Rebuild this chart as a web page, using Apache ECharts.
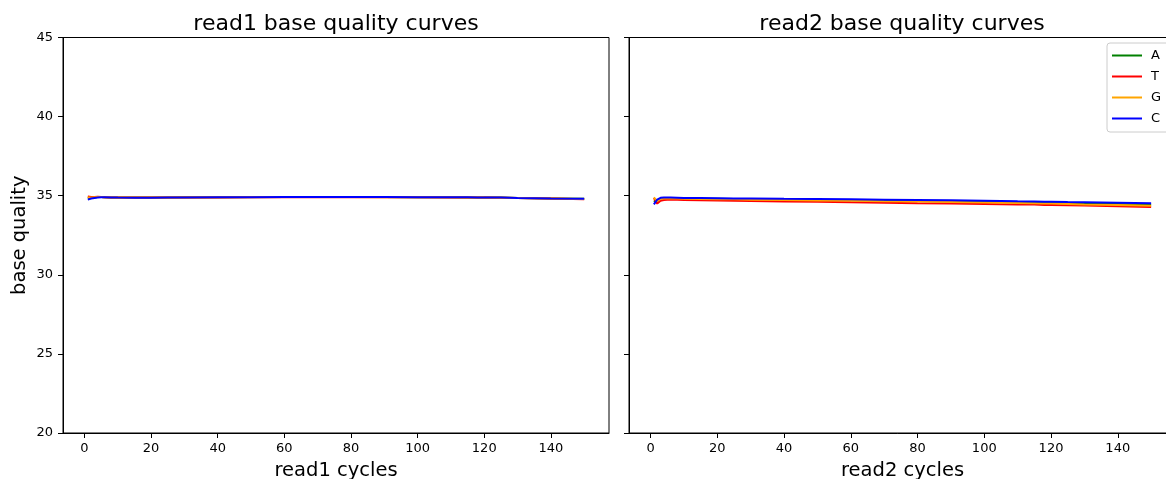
<!DOCTYPE html>
<html>
<head>
<meta charset="utf-8">
<script src="https://cdn.jsdelivr.net/npm/echarts@6/dist/echarts.min.js"></script>
<style>
html,body{margin:0;padding:0;background:#fff;}
#chart{width:1166px;height:479px;}
</style>
</head>
<body>
<div id="chart"></div>
<script>
var cycles = [1,2,3,4,5,6,8,10,15,20,25,30,40,50,60,70,80,90,100,110,115,118,120,125,130,140,150];

// read1 base quality per base
var read1A = [34.85,34.88,34.90,34.91,34.91,34.90,34.89,34.88,34.88,34.88,34.89,34.90,34.90,34.91,34.91,34.91,34.91,34.91,34.90,34.90,34.89,34.89,34.89,34.88,34.86,34.83,34.80];
var read1T = [34.95,34.92,34.92,34.93,34.92,34.90,34.89,34.88,34.88,34.88,34.88,34.89,34.89,34.90,34.90,34.90,34.90,34.90,34.90,34.89,34.89,34.88,34.88,34.87,34.85,34.82,34.78];
var read1G = [34.88,34.89,34.90,34.91,34.91,34.90,34.89,34.88,34.88,34.88,34.89,34.89,34.90,34.90,34.91,34.91,34.91,34.90,34.90,34.90,34.89,34.89,34.88,34.87,34.86,34.83,34.79];
var read1C = [34.75,34.82,34.86,34.88,34.90,34.90,34.89,34.88,34.87,34.87,34.88,34.89,34.90,34.90,34.91,34.91,34.91,34.91,34.90,34.90,34.90,34.89,34.89,34.88,34.86,34.83,34.81];

// read2 base quality per base
var read2A = [34.70,34.55,34.82,34.85,34.85,34.85,34.84,34.83,34.81,34.80,34.79,34.78,34.75,34.73,34.71,34.68,34.66,34.64,34.61,34.58,34.56,34.54,34.54,34.52,34.50,34.47,34.43];
var read2T = [34.85,34.50,34.68,34.73,34.75,34.75,34.74,34.73,34.71,34.70,34.68,34.67,34.64,34.61,34.58,34.56,34.53,34.51,34.48,34.45,34.44,34.42,34.42,34.40,34.38,34.34,34.29];
var read2G = [34.90,34.65,34.80,34.83,34.83,34.83,34.82,34.81,34.79,34.78,34.77,34.75,34.73,34.70,34.68,34.65,34.63,34.60,34.57,34.54,34.52,34.50,34.50,34.48,34.45,34.41,34.37];
var read2C = [34.45,34.75,34.87,34.88,34.88,34.88,34.87,34.86,34.85,34.84,34.83,34.82,34.80,34.79,34.77,34.75,34.73,34.71,34.68,34.65,34.64,34.62,34.62,34.60,34.59,34.56,34.53];

var bases = ['A','T','G','C'];
var colors = ['#008000','#ff0000','#ffa500','#0000ff'];
var xTicks = [0,20,40,60,80,100,120,140];
var yTicks = [20,25,30,35,40,45];

function pairs(vals){ return cycles.map(function(c,i){ return [c, vals[i]]; }); }

var read1 = [read1A, read1T, read1G, read1C];
var read2 = [read2A, read2T, read2G, read2C];

var font = 'DejaVu Sans';
var series = [];
[read1, read2].forEach(function(set, gi){
  set.forEach(function(vals, bi){
    series.push({
      name: bases[bi], type:'line', xAxisIndex: gi, yAxisIndex: gi,
      data: pairs(vals), symbol:'none', showSymbol:false,
      lineStyle:{color: colors[bi], width: 2}, itemStyle:{color: colors[bi]},
      emphasis:{disabled:true}, animation:false, z: 2 + bi
    });
  });
});

function xAxis(gi, name){
  return {
    type:'value', gridIndex: gi, min:-6.45, max:157.45,
    name: name, nameLocation:'middle', nameGap: 28,
    nameTextStyle:{fontFamily:font, fontSize:19.5, color:'#000'},
    axisLine:{show:true, onZero:false, lineStyle:{color:'#000', width:1}},
    axisTick:{show:true, length:5, customValues:xTicks, lineStyle:{color:'#000'}},
    axisLabel:{show:true, customValues:xTicks, fontFamily:font, fontSize:13, color:'#000', margin:9},
    splitLine:{show:false}
  };
}
function yAxis(gi, showLabels){
  return {
    type:'value', gridIndex: gi, min:20, max:45, interval:5,
    name: showLabels ? 'base quality' : '', nameLocation:'middle', nameGap: 33, nameRotate: 90,
    nameTextStyle:{fontFamily:font, fontSize:19.5, color:'#000'},
    axisLine:{show:true, onZero:false, lineStyle:{color:'#000', width:1}},
    axisTick:{show:true, length:5, lineStyle:{color:'#000'}},
    axisLabel:{show:showLabels, fontFamily:font, fontSize:13, color:'#000', margin:10},
    splitLine:{show:false}
  };
}

var chart = echarts.init(document.getElementById('chart'), null, {renderer:'canvas'});
chart.setOption({
  backgroundColor:'#fff',
  animation:false,
  title:[
    {text:'read1 base quality curves', left:331, top:8, textAlign:'center',
     textStyle:{fontFamily:font, fontSize:22, fontWeight:'normal', color:'#000'}},
    {text:'read2 base quality curves', left:897, top:8, textAlign:'center',
     textStyle:{fontFamily:font, fontSize:22, fontWeight:'normal', color:'#000'}}
  ],
  legend:{
    data: bases, orient:'vertical', left:1107, top:43,
    icon:'rect',
    backgroundColor:'rgba(255,255,255,0.8)', borderColor:'#ccc', borderWidth:1, borderRadius:3,
    padding:[6,10,7,5], itemGap:8, itemWidth:30, itemHeight:2,
    textStyle:{fontFamily:font, fontSize:13, color:'#000', lineHeight:12, padding:[0,0,0,4]}
  },
  grid:[
    {left:63, top:37.5, width:546, height:395.5, show:true, borderColor:'#000', borderWidth:1,
     backgroundColor:'transparent', containLabel:false, outerBoundsMode:'none'},
    {left:629, top:37.5, width:547, height:395.5, show:true, borderColor:'#000', borderWidth:1,
     backgroundColor:'transparent', containLabel:false, outerBoundsMode:'none'}
  ],
  xAxis:[xAxis(0,'read1 cycles'), xAxis(1,'read2 cycles')],
  yAxis:[yAxis(0,true), yAxis(1,false)],
  series: series
});
</script>
</body>
</html>
